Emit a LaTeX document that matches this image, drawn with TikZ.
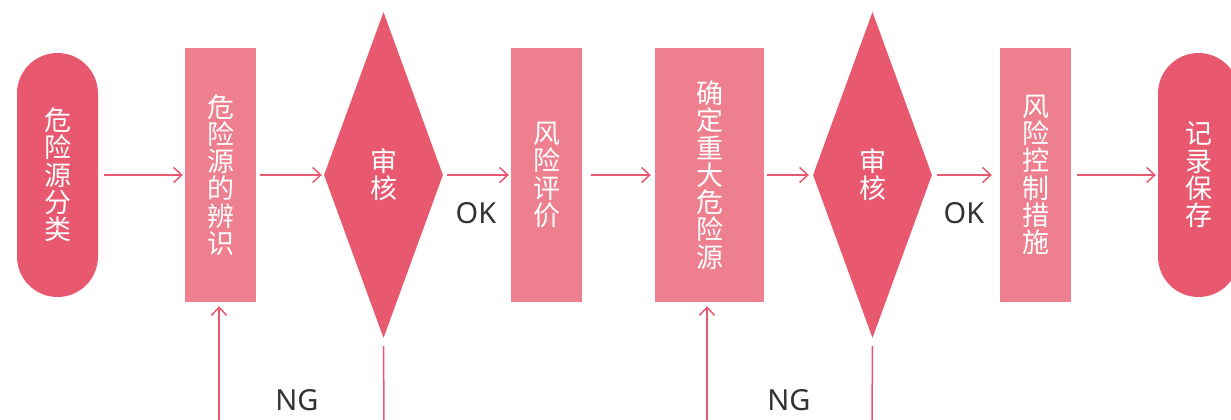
\documentclass[tikz,border=0pt]{standalone}
\usepackage{fontspec}
\setmainfont{Noto Sans}
\newfontfamily\cjk{Noto Sans CJK SC}
\usetikzlibrary{shapes.geometric,arrows.meta}
\definecolor{darkpink}{HTML}{E8596F}
\definecolor{lightpink}{HTML}{EE7F8E}
\definecolor{linepink}{HTML}{E8586F}
\definecolor{labelgray}{HTML}{333333}
\tikzset{
  vtext/.style={text=white, font=\cjk\fontsize{27}{27.3}\selectfont, align=center, inner sep=0pt},
  pill/.style={vtext, fill=darkpink, rounded corners=40.5pt, minimum width=81pt, minimum height=244pt},
  stepbox/.style={vtext, fill=lightpink, minimum height=254pt},
  check/.style={vtext, diamond, fill=darkpink, minimum width=119pt, minimum height=326pt},
  arr/.style={draw=linepink, line width=1.5pt, -{Straight Barb[length=8pt,width=15pt,line width=1.5pt]}},
  plain/.style={draw=linepink, line width=1.5pt},
  lab/.style={text=labelgray, font=\fontsize{29}{29}\selectfont, inner sep=0pt}
}
\begin{document}
\begin{tikzpicture}[x=1pt,y=-1pt]
\useasboundingbox (0,0) rectangle (1231,420);
\clip (0,0) rectangle (1231,420);
\node[pill] (p1) at (57.5,175) {危\\险\\源\\分\\类};
\node[stepbox, minimum width=71pt] (r1) at (220.5,175) {危\\险\\源\\的\\辨\\识};
\node[check] (d1) at (383.5,175) {审\\核};
\node[stepbox, minimum width=71pt] (r2) at (546.5,175) {风\\险\\评\\价};
\node[stepbox, minimum width=109pt] (r3) at (709.5,175) {确\\定\\重\\大\\危\\险\\源};
\node[check] (d2) at (872.5,175) {审\\核};
\node[stepbox, minimum width=71pt] (r4) at (1035.5,175) {风\\险\\控\\制\\措\\施};
\node[pill] (p2) at (1198.5,175) {记\\录\\保\\存};

\draw[arr, shorten <=6pt, shorten >=2pt] (p1) -- (r1);
\draw[arr, shorten <=4pt, shorten >=2pt] (r1) -- (d1);
\draw[arr, shorten <=4pt, shorten >=2pt] (d1) -- (r2);
\draw[arr, shorten <=9pt, shorten >=4pt] (r2) -- (r3);
\draw[arr, shorten <=3pt, shorten >=4pt] (r3) -- (d2);
\draw[arr, shorten <=5pt, shorten >=8pt] (d2) -- (r4);
\draw[arr, shorten <=6pt, shorten >=2pt] (r4) -- (p2);

\node[lab] (ok1) at (476,213) {OK};
\node[lab] (ok2) at (964,213) {OK};
\node[lab] (ng1) at (297,400) {NG};
\node[lab] (ng2) at (789,400) {NG};

\coordinate (b1) at (219,425);
\coordinate (b2) at (384,425);
\coordinate (b3) at (707,425);
\coordinate (b4) at (872,425);
\draw[arr, shorten >=4pt] (b1) -- (b1 |- r1.south);
\draw[plain, shorten <=8pt] (d1.south) -- (b2);
\draw[arr, shorten >=4pt] (b3) -- (b3 |- r3.south);
\draw[plain, shorten <=8pt] (d2.south) -- (b4);
\end{tikzpicture}
\end{document}
